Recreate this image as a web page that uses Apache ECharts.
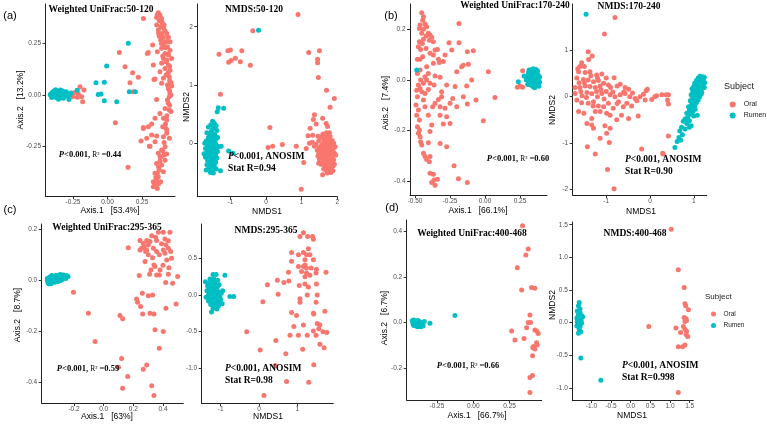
<!DOCTYPE html>
<html><head><meta charset="utf-8">
<script src="https://cdn.jsdelivr.net/npm/echarts@6/dist/echarts.min.js"></script>
<style>html,body{margin:0;padding:0;background:#fff}#c{width:767px;height:426px}</style>
</head><body><div id="c"></div>
<script>
// ---------------- DATA ----------------
// (a) Weighted UniFrac 50-120
const A1_oral = [[0.368,0.400],[0.380,0.388],[0.356,0.377],[0.392,0.372],[0.375,0.361],[0.397,0.351],[0.356,0.340],[0.385,0.332],[0.405,0.324],[0.368,0.316],[0.417,0.312],[0.392,0.299],[0.429,0.299],[0.375,0.286],[0.405,0.280],[0.441,0.280],[0.385,0.267],[0.417,0.259],[0.453,0.259],[0.405,0.243],[0.434,0.235],[0.392,0.227],[0.453,0.218],[0.361,0.210],[0.417,0.202],[0.441,0.194],[0.405,0.178],[0.465,0.178],[0.424,0.162],[0.392,0.154],[0.441,0.146],[0.417,0.129],[0.453,0.121],[0.380,0.113],[0.424,0.097],[0.448,0.089],[0.344,0.078],[0.405,0.081],[0.392,0.057],[0.434,0.049],[0.465,0.044],[0.441,0.032],[0.453,0.008],[0.448,-0.008],[0.434,-0.024],[0.356,-0.021],[0.417,-0.065],[0.448,-0.073],[0.380,-0.089],[0.405,-0.113],[0.429,-0.121],[0.400,-0.154],[0.424,-0.162],[0.344,-0.113],[0.296,-0.154],[0.260,-0.157],[0.320,-0.194],[0.356,-0.199],[0.429,-0.186],[0.405,-0.202],[0.448,-0.210],[0.417,-0.251],[0.392,-0.267],[0.308,-0.248],[0.344,-0.227],[0.368,-0.283],[0.429,-0.286],[0.380,-0.299],[0.417,-0.316],[0.356,-0.332],[0.392,-0.340],[0.375,-0.364],[0.405,-0.372],[0.344,-0.380],[0.368,-0.397],[0.356,-0.413],[0.385,-0.421],[0.332,-0.421],[0.351,-0.437],[0.361,-0.453],[0.332,-0.445],[0.260,0.372],[0.327,0.243],[0.296,0.206],[0.332,0.146],[0.337,0.076],
[0.36,0.39],[0.39,0.36],[0.41,0.34],[0.37,0.30],[0.40,0.28],[0.43,0.26],[0.39,0.25],[0.42,0.23],[0.44,0.20],[0.40,0.19],[0.43,0.17],[0.45,0.14],[0.44,0.11],[0.46,0.06],[0.45,0.02],[0.44,-0.04],[0.45,-0.05],[0.43,-0.10],[0.42,-0.14],[0.41,-0.23],[0.40,-0.27],[0.38,-0.32],[0.37,-0.35],[0.36,-0.38],[0.35,-0.40],[0.34,-0.43],[0.37,-0.43],[0.39,-0.30],[0.41,-0.29],[0.43,-0.17],[0.46,-0.08],[0.46,0.00],[0.45,0.07],
[0.086,0.207],[0.127,0.137],[0.182,0.108],[0.223,0.086],[0.163,0.060],[0.187,0.016],[0.057,-0.134],[0.149,-0.351],[0.289,0.202],[0.260,-0.162],[0.320,-0.141],[0.284,-0.210],[0.243,-0.223],[0.303,-0.248],
[-0.243,0.011],[-0.211,0.005],[-0.199,0.040],[-0.187,-0.008],[-0.170,0.024],[-0.180,-0.032],[-0.219,-0.011],[-0.252,-0.008]];
const A1_rumen = [[-0.41,0.005],[-0.40,0.012],[-0.40,-0.004],[-0.39,0.018],[-0.39,0.002],[-0.39,-0.010],[-0.38,0.010],[-0.38,-0.002],[-0.38,0.022],[-0.37,0.006],[-0.37,-0.012],[-0.37,0.016],[-0.36,0.000],[-0.36,0.012],[-0.36,-0.008],[-0.35,0.020],[-0.35,0.004],[-0.35,-0.014],[-0.34,0.010],[-0.34,-0.004],[-0.34,0.024],[-0.33,0.002],[-0.33,0.014],[-0.33,-0.010],[-0.32,0.006],[-0.32,-0.016],[-0.31,0.010],[-0.31,-0.002],[-0.30,0.004],[-0.30,0.016],[-0.29,-0.006],[-0.285,0.008],[-0.275,0.000],[-0.265,0.010],[-0.405,-0.012],[-0.415,0.002],[-0.375,0.026],[-0.355,-0.020],[-0.345,0.016],[-0.325,0.020],
[0.151,0.251],[-0.006,0.141],[-0.083,0.060],[-0.023,0.062],[-0.067,0.003],[-0.047,0.005],[-0.023,-0.028],[0.067,-0.032],[0.158,0.016],[0.202,0.016],[-0.219,0.023],[-0.279,-0.021]];
const A1_xTicks = [-0.25, 0, 0.25];
const A1_yTicks = [-0.25, 0, 0.25];

// (a) NMDS 50-120
const A2_oral = [[0.90,2.21],[-0.37,1.93],[-1.32,1.53],[-1.07,1.59],[-1.00,1.60],[-0.68,1.59],[-0.86,1.46],[-1.05,1.39],[-0.98,1.42],[-0.72,1.40],[-0.44,1.34],[-1.28,0.84],[0.11,0.27],[0.06,-0.07],[0.19,-0.05],[0.46,-0.02],[0.85,-0.05],[0.99,-0.79],[1.06,-0.33],[1.20,1.56],[1.50,1.59],[1.45,1.44],[1.45,1.38],[1.47,1.13],[1.70,0.91],[1.92,0.77],[1.80,0.62],[1.59,0.43],[1.36,0.49],[1.33,0.41],[1.41,0.33],[1.69,0.34],[1.73,0.29],[1.24,0.26],[1.18,0.13],[1.31,0.14],[1.13,-0.09],[1.22,0.00],[1.48,-0.34],[1.59,-0.54],[1.82,-0.43],
[1.60,0.16],[1.72,0.14],[1.80,0.12],[1.55,0.10],[1.66,0.08],[1.76,0.06],[1.86,0.05],[1.48,0.04],[1.62,0.03],[1.70,0.01],[1.82,-0.01],[1.90,0.00],[1.40,-0.02],[1.56,-0.03],[1.66,-0.05],[1.76,-0.04],[1.84,-0.06],[1.50,-0.07],[1.60,-0.09],[1.72,-0.08],[1.80,-0.10],[1.88,-0.11],[1.44,-0.12],[1.54,-0.13],[1.64,-0.14],[1.74,-0.15],[1.84,-0.16],[1.92,-0.17],[1.48,-0.18],[1.58,-0.19],[1.68,-0.20],[1.78,-0.21],[1.86,-0.22],[1.52,-0.24],[1.62,-0.25],[1.72,-0.26],[1.82,-0.27],[1.90,-0.28],[1.56,-0.29],[1.66,-0.31],[1.76,-0.32],[1.86,-0.33],[1.60,-0.35],[1.70,-0.36],[1.80,-0.37],[1.88,-0.39],[1.64,-0.40],[1.74,-0.42],[1.84,-0.44],[1.68,-0.46],[1.78,-0.48],[1.88,-0.47],[1.72,-0.51],[1.82,-0.50],[1.36,-0.05],[1.30,0.02],[1.46,0.12],[1.70,0.18],[1.78,0.18],[1.94,-0.06],[1.62,-0.44],[1.54,-0.36],[1.96,-0.20],[1.92,-0.36],[1.50,-0.28],[1.68,-0.10],[1.58,0.12],[1.46,-0.22]];
const A2_rumen = [[-0.21,1.94],[-1.34,0.61],[-1.19,0.60],[-1.37,0.54],[-1.26,-0.05],[-1.05,-0.13],[-0.93,-0.17],[-1.28,-0.47],[-1.56,-0.50],[-1.48,-0.51],
[-1.50,0.38],[-1.45,0.34],[-1.55,0.32],[-1.40,0.30],[-1.62,0.28],[-1.48,0.26],[-1.52,0.22],[-1.38,0.22],[-1.66,0.18],[-1.58,0.16],[-1.44,0.15],[-1.50,0.12],[-1.62,0.10],[-1.36,0.10],[-1.54,0.06],[-1.46,0.05],[-1.68,0.04],[-1.58,0.01],[-1.42,0.00],[-1.52,-0.02],[-1.64,-0.04],[-1.38,-0.04],[-1.48,-0.07],[-1.56,-0.08],[-1.70,-0.09],[-1.44,-0.10],[-1.60,-0.12],[-1.52,-0.13],[-1.36,-0.14],[-1.66,-0.16],[-1.48,-0.17],[-1.56,-0.19],[-1.42,-0.20],[-1.62,-0.22],[-1.50,-0.23],[-1.70,-0.24],[-1.38,-0.25],[-1.58,-0.27],[-1.46,-0.28],[-1.64,-0.30],[-1.52,-0.31],[-1.42,-0.33],[-1.58,-0.35],[-1.48,-0.36],[-1.66,-0.37],[-1.54,-0.40],[-1.44,-0.41],[-1.60,-0.43],[-1.50,-0.45],[-1.40,-0.44],[-1.56,-0.48],[-1.68,-0.46],[-1.72,0.00],[-1.74,-0.18],[-1.34,-0.06],[-1.40,0.08],[-1.54,0.20],[-1.46,-0.02],[-1.60,-0.02],[-1.50,-0.10],[-1.58,0.06],[-1.64,-0.14],[-1.42,-0.28],[-1.54,-0.25]];
const A2_xTicks = [-1, 0, 1, 2];
const A2_yTicks = [0, 1, 2];

// (b) Weighted UniFrac 170-240
const B1_oral = [[-0.452,0.266],[-0.440,0.251],[-0.445,0.237],[-0.464,0.218],[-0.429,0.222],[-0.469,0.204],[-0.440,0.201],[-0.417,0.211],[-0.452,0.185],[-0.405,0.185],[-0.421,0.174],[-0.393,0.178],[-0.381,0.169],[-0.398,0.158],[-0.369,0.152],[-0.440,0.161],[-0.469,0.152],[-0.476,0.132],[-0.448,0.145],[-0.460,0.121],[-0.421,0.125],[-0.393,0.106],[-0.369,0.099],[-0.357,0.119],[-0.340,0.121],[-0.333,0.082],[-0.326,0.069],[-0.369,0.066],[-0.445,0.092],[-0.464,0.082],[-0.483,0.082],[-0.186,0.224],[-0.257,0.148],[-0.186,0.148],[-0.238,0.119],[-0.126,0.112],[-0.083,0.116],[-0.286,0.099],[-0.298,0.073],[-0.119,0.063],[-0.167,0.053],[-0.155,0.059],[-0.202,0.033],[0.024,0.033],[0.071,-0.069],[-0.321,0.011],[-0.357,0.016],[-0.393,-0.013],[-0.417,0],[-0.440,-0.013],[-0.476,-0.020],[-0.405,-0.037],[-0.464,-0.033],[-0.429,-0.053],[-0.452,-0.046],[-0.483,-0.066],[-0.488,-0.040],[-0.417,0.053],[-0.464,0.040],[-0.483,0.026],[-0.429,0.013],[-0.460,0],[-0.405,0.026],[-0.493,-0.099],[-0.476,-0.119],[-0.488,-0.139],[-0.469,-0.158],[-0.483,-0.185],[-0.469,-0.198],[-0.476,-0.211],[-0.464,-0.224],[-0.460,-0.244],[-0.452,-0.257],[-0.440,-0.290],[-0.429,-0.303],[-0.417,-0.314],[-0.398,-0.323],[-0.381,-0.178],[-0.393,-0.204],[-0.374,-0.106],[-0.405,-0.139],[-0.429,-0.106],[-0.440,-0.079],[-0.357,-0.092],[-0.333,-0.077],[-0.310,-0.066],[-0.321,-0.106],[-0.286,-0.112],[-0.250,-0.092],[-0.231,-0.073],[-0.202,-0.106],[-0.155,-0.066],[-0.126,-0.095],[-0.274,-0.145],[-0.250,-0.172],[-0.298,-0.174],[-0.321,-0.139],[-0.364,-0.020],[-0.310,-0.046],[-0.274,-0.020],[-0.214,-0.026],[-0.131,-0.024],[-0.095,0],[-0.064,-0.079],[-0.012,-0.161],[-0.321,-0.251],[-0.340,-0.393],[-0.364,-0.396],[-0.381,-0.406],[-0.357,-0.416],[-0.369,-0.373],[-0.393,-0.369],[-0.190,-0.391],[-0.221,-0.339],[-0.126,-0.406],[-0.274,-0.264],[-0.405,-0.248],[-0.393,-0.303],[0.269,0.037],[0.231,-0.029],[0.269,-0.029],[0.250,-0.024]];
const B1_rumen = [[-0.488,0.040],[0.238,-0.007],[0.279,0.016],
[0.30,0.010],[0.31,0.025],[0.31,-0.005],[0.32,0.035],[0.32,0.015],[0.32,-0.015],[0.33,0.030],[0.33,0.005],[0.33,-0.020],[0.34,0.038],[0.34,0.020],[0.34,0.000],[0.34,-0.025],[0.35,0.030],[0.35,0.012],[0.35,-0.008],[0.35,-0.028],[0.36,0.035],[0.36,0.022],[0.36,0.004],[0.36,-0.015],[0.37,0.028],[0.37,0.010],[0.37,-0.005],[0.37,-0.022],[0.38,0.020],[0.38,0.002],[0.38,-0.015],[0.39,0.012],[0.39,-0.008],[0.325,0.040],[0.345,0.045],[0.355,-0.030],[0.365,0.042],[0.385,-0.025],[0.305,-0.018],[0.315,0.040],[0.375,0.036],[0.295,0.000],[0.31,0.030]];
const B1_xTicks = [-0.5, -0.25, 0, 0.25];
const B1_yTicks = [-0.4, -0.2, 0, 0.2];

// (b) NMDS 170-240
const B2_oral = [[-0.80,1.71],[-1.04,1.35],[-1.41,0.97],[-1.32,0.88],[-1.56,0.73],[-1.60,0.65],[-1.63,0.54],[-1.48,0.52],[-1.37,0.54],[-1.22,0.47],[-1.10,0.49],[-1.67,0.40],[-1.52,0.37],[-1.41,0.36],[-1.29,0.32],[-1.18,0.35],[-1.06,0.29],[-0.82,0.41],[-0.68,0.27],[-0.75,0.23],[-0.57,0.20],[-0.49,0.16],[-1.71,0.20],[-1.60,0.20],[-1.48,0.23],[-1.37,0.22],[-1.25,0.20],[-1.14,0.23],[-1.71,0.07],[-1.58,0.11],[-1.44,0.09],[-1.33,0.06],[-1.22,0.11],[-1.10,0.07],[-1.00,0.11],[-0.91,0.04],[-0.80,0.00],[-0.68,0.04],[-0.57,0.07],[-0.46,0.00],[-0.34,-0.04],[-0.23,0.00],[-0.09,0.13],[-0.06,0.16],[-0.11,-0.07],[0.04,-0.06],[0.11,0.00],[0.27,0.04],[0.37,0.04],[0.42,0.04],[0.40,-0.07],[0.42,-0.16],[-1.67,-0.07],[-1.56,-0.13],[-1.41,-0.14],[-1.29,-0.11],[-1.18,-0.20],[-1.06,-0.22],[-0.95,-0.14],[-0.84,-0.25],[-0.72,-0.11],[-0.61,-0.22],[-0.53,-0.14],[-0.42,-0.20],[-0.30,-0.09],[-0.27,-0.42],[-1.63,-0.32],[-1.51,-0.36],[-1.33,-0.47],[-1.25,-0.32],[-1.14,-0.32],[-0.99,-0.36],[-0.91,-0.40],[-1.44,-0.58],[-1.33,-0.61],[-1.29,-0.68],[-1.03,-0.63],[-0.91,-0.68],[-0.99,-0.79],[-1.14,-0.90],[-0.93,-0.99],[-1.43,-1.08],[-1.25,-1.24],[-0.19,-1.13],[0.29,-1.22],[0.30,-1.24],[0.42,-0.85],[-0.97,-1.57],[-0.82,-1.99],[-0.76,-0.50],[-0.49,-0.47],[-0.65,-0.40],
[-1.50,0.30],[-1.35,0.45],[-1.20,0.40],[-1.62,0.30],[-1.45,-0.02],[-1.55,0.02],[-1.30,-0.20],[-1.20,0.00],[-1.05,-0.05],[-0.90,0.20],[-0.85,0.10],[-0.75,-0.15],[-1.00,0.40],[-0.95,0.25],[-1.12,0.15],[-0.60,0.10],[-0.40,0.08],[-0.15,0.05],[0.15,0.02],[-1.65,0.60],[-1.50,0.65],[-1.40,0.80]];
const B2_rumen = [[-1.46,1.78],
[1.14,0.44],[1.20,0.43],[1.24,0.42],[1.10,0.40],[1.17,0.38],[1.22,0.36],[1.06,0.35],[1.13,0.33],[1.19,0.31],[1.25,0.30],[1.02,0.29],[1.09,0.28],[1.15,0.26],[1.21,0.24],[1.00,0.22],[1.06,0.21],[1.12,0.20],[1.18,0.18],[0.96,0.17],[1.03,0.15],[1.09,0.14],[1.15,0.12],[0.98,0.10],[1.05,0.08],[1.11,0.07],[1.17,0.05],[0.94,0.04],[1.01,0.02],[1.07,0.01],[1.13,-0.01],[0.97,-0.04],[1.04,-0.05],[1.10,-0.07],[0.92,-0.09],[0.99,-0.11],[1.06,-0.13],[0.95,-0.17],[1.02,-0.19],[0.88,-0.22],[0.96,-0.24],[1.03,-0.27],[0.90,-0.30],[0.98,-0.32],[0.84,-0.36],[0.93,-0.38],[1.00,-0.42],[0.86,-0.45],[0.80,-0.48],[0.90,-0.52],[0.76,-0.53],[0.84,-0.58],[0.94,-0.63],[0.72,-0.66],[0.80,-0.70],[0.68,-0.74],[0.74,-0.82],[0.66,-0.88],[0.70,-0.94],[0.62,-0.97],[0.57,-1.10],[1.08,-0.40],[1.18,0.10],[1.24,0.20],[0.90,-0.66]];
const B2_xTicks = [-1, 0, 1];
const B2_yTicks = [-2, -1, 0, 1];

// (c) Weighted UniFrac 295-365
const C1_oral = [[0.166,0.129],[0.369,0.190],[0.402,0.190],[0.447,0.190],[0.245,0.157],[0.267,0.146],[0.290,0.157],[0.312,0.153],[0.357,0.157],[0.413,0.163],[0.436,0.156],[0.272,0.133],[0.301,0.140],[0.335,0.127],[0.256,0.127],[0.283,0.114],[0.301,0.101],[0.357,0.114],[0.402,0.120],[0.436,0.127],[0.452,0.114],[0.413,0.107],[0.375,0.101],[0.425,0.081],[0.458,0.088],[0.279,0.075],[0.245,0.120],[0.324,0.176],[0.240,0.020],[0.319,0.042],[0.346,0.055],[0.380,0.042],[0.375,0.022],[0.357,0.022],[0.436,0.025],[0.418,-0.007],[0.465,-0.010],[0.499,0.016],[0.339,0.061],[-0.204,-0.046],[-0.103,-0.128],[0.110,-0.137],[0.128,-0.150],[-0.058,-0.239],[0.261,-0.050],[0.301,-0.059],[0.330,-0.056],[0.249,-0.102],[0.229,-0.085],[0.222,-0.072],[0.263,-0.131],[0.312,-0.128],[0.339,-0.131],[0.346,-0.193],[0.402,-0.200],[0.420,-0.108],[0.488,-0.092],[0.375,-0.265],[0.290,-0.331],[0.267,-0.348],[0.121,-0.305],[0.162,-0.376],[0.128,-0.422],[0.324,-0.412],[0.339,-0.451],[0.10,-0.34],[0.39,0.145],[0.35,0.17],[0.42,0.14],[0.33,0.09],[0.40,0.06],[0.44,0.05],[0.31,0.025],[0.29,0.12]];
const C1_rumen = [[-0.38,0.000],[-0.375,-0.008],[-0.37,0.006],[-0.365,-0.004],[-0.36,0.010],[-0.36,-0.010],[-0.355,0.002],[-0.35,0.012],[-0.35,-0.006],[-0.345,0.006],[-0.34,-0.002],[-0.34,0.014],[-0.335,0.008],[-0.33,-0.006],[-0.33,0.016],[-0.325,0.004],[-0.32,0.012],[-0.32,-0.002],[-0.315,0.018],[-0.31,0.008],[-0.305,0.000],[-0.30,0.014],[-0.30,0.022],[-0.295,0.006],[-0.29,0.016],[-0.285,0.010],[-0.28,0.020],[-0.28,0.004],[-0.275,0.014],[-0.27,0.022],[-0.265,0.012],[-0.26,0.018],[-0.255,0.008],[-0.25,0.020],[-0.24,0.016],[-0.37,-0.012],[-0.355,-0.012],[-0.345,0.018],[-0.31,-0.004],[-0.29,0.024],[-0.365,0.014],[-0.325,0.020],[-0.38,0.008],[-0.35,0.020],[-0.29,0.000]];
const C1_xTicks = [-0.2, 0, 0.2, 0.4];
const C1_yTicks = [-0.4, -0.2, 0, 0.2];

// (c) NMDS 295-365
const C2_oral = [[1.16,0.85],[1.07,0.80],[1.27,0.80],[1.40,0.80],[1.42,0.76],[0.85,0.58],[1.03,0.55],[1.16,0.58],[1.24,0.55],[1.29,0.63],[1.33,0.55],[1.20,0.48],[1.42,0.48],[0.85,0.46],[1.03,0.39],[1.16,0.39],[1.24,0.37],[1.20,0.41],[1.36,0.37],[1.50,0.35],[1.11,0.32],[1.24,0.30],[1.49,0.30],[1.75,0.31],[0.77,0.31],[1.33,0.27],[1.20,0.25],[0.22,0.14],[0.48,0.20],[0.65,0.17],[0.78,0.19],[0.50,0.01],[0.10,-0.09],[1.05,0.13],[1.20,0.15],[1.29,0.11],[1.50,0.15],[1.26,0.00],[1.07,-0.05],[1.07,-0.10],[1.52,0.00],[1.49,-0.10],[1.72,-0.22],[0.85,-0.24],[0.98,-0.28],[1.42,-0.25],[1.43,-0.26],[1.16,-0.41],[0.91,-0.43],[1.52,-0.39],[1.59,-0.41],[1.56,-0.46],[1.42,-0.49],[1.67,-0.50],[1.77,-0.51],[1.26,-0.55],[1.03,-0.55],[0.81,-0.55],[1.49,-0.55],[1.14,-0.74],[1.59,-0.67],[1.70,-0.72],[0.70,-0.80],[0.44,-0.62],[0.03,-0.75],[-0.32,-0.50],[1.43,-0.95],[0.42,-0.96],[0.72,-1.18],[1.30,-1.19],[0.13,-1.37]];
const C2_rumen = [[-1.20,0.28],[-1.12,0.28],[-1.28,0.22],[-1.18,0.22],[-1.08,0.20],[-1.34,0.16],[-1.24,0.16],[-1.14,0.15],[-1.04,0.14],[-1.30,0.10],[-1.20,0.10],[-1.10,0.09],[-1.36,0.06],[-1.26,0.05],[-1.16,0.05],[-1.06,0.04],[-0.98,0.03],[-1.32,0.00],[-1.22,0.01],[-1.12,0.00],[-1.02,-0.01],[-1.38,-0.03],[-1.28,-0.04],[-1.18,-0.04],[-1.08,-0.05],[-1.00,-0.06],[-1.32,-0.08],[-1.22,-0.09],[-1.12,-0.10],[-1.04,-0.10],[-1.26,-0.13],[-1.16,-0.14],[-1.06,-0.15],[-1.20,-0.18],[-1.10,-0.19],[-1.24,-0.23],[-1.40,0.18],[-0.89,0.27],[-0.76,-0.02],[-0.66,-0.02],[-0.96,-0.12],[-1.34,0.12],[-1.14,-0.02],[-1.24,0.12],[-1.30,-0.02],[-1.08,0.12],[-0.95,0.06],[-1.18,0.18]];
const C2_xTicks = [-1, 0, 1];
const C2_yTicks = [-1, -0.5, 0, 0.5];

// (d) Weighted UniFrac 400-468
const D1_oral = [[0.339,0.425],[0.378,0.323],[0.362,0.297],[0.303,0.241],[0.333,0.143],[0.401,0.154],[0.424,0.151],[0.390,0.034],[0.378,0.001],[0.394,0.001],[0.367,-0.022],[0.424,-0.032],[0.436,-0.037],[0.447,-0.047],[0.264,-0.037],[0.287,-0.076],[0.349,-0.069],[0.436,-0.088],[0.440,-0.098],[0.413,-0.105],[0.424,-0.115],[0.408,-0.145],[0.390,-0.240],[0.408,-0.232],[0.390,-0.306],[0.41,-0.11]];
const D1_rumen = [[-0.42,0.008],[-0.415,-0.004],[-0.41,0.012],[-0.405,0.000],[-0.40,-0.010],[-0.40,0.008],[-0.395,-0.004],[-0.39,0.006],[-0.39,-0.014],[-0.385,0.000],[-0.38,-0.008],[-0.38,0.010],[-0.375,-0.016],[-0.37,-0.004],[-0.37,0.004],[-0.365,-0.012],[-0.36,-0.002],[-0.355,-0.010],[-0.35,-0.006],[-0.345,-0.014],[-0.36,-0.018],[-0.41,-0.012],[-0.385,-0.018],[-0.337,0.005],[-0.298,-0.003],[-0.126,0.031]];
const D1_xTicks = [-0.25, 0, 0.25];
const D1_yTicks = [-0.2, 0, 0.2, 0.4];

// (d) NMDS 400-468
const D2_oral = [[1.03,1.43],[1.21,0.81],[1.36,0.54],[1.38,0.29],[1.40,0.26],[1.47,0.20],[1.36,0.08],[1.41,0.06],[1.38,0.02],[1.42,0.03],[0.46,-0.06],[1.15,-0.08],[1.34,-0.06],[1.38,-0.10],[1.42,-0.13],[1.27,-0.15],[1.41,-0.18],[1.38,-0.34],[1.32,-0.37],[1.21,-0.37],[1.21,-1.07],[1.45,-0.21]];
const D2_rumen = [[-1.31,0.31],[-1.33,0.26],[-1.29,0.21],[-1.36,0.18],[-1.25,0.11],[-1.33,0.12],[-1.37,0.07],[-1.27,0.06],[-1.31,0.02],[-1.36,0.01],[-1.25,-0.01],[-1.33,-0.04],[-1.29,-0.06],[-1.37,-0.05],[-1.31,-0.10],[-1.27,-0.14],[-1.33,-0.16],[-1.22,0.09],[-1.29,0.16],[-1.35,0.04],[-1.26,0.03],[-1.27,-0.54],[-0.76,-0.88]];
const D2_xTicks = [-1.5, -1, -0.5, 0, 0.5, 1, 1.5];
const D2_yTicks = [-1, -0.5, 0, 0.5, 1, 1.5];

const legendNames = ['Oral', 'Rumen'];

// ---------------- LAYOUT ----------------
const RED = '#F8766D', CYAN = '#00BFC4';
const panels = [
  {oral:A1_oral, rumen:A1_rumen, xt:A1_xTicks, yt:A1_yTicks, xd:2, yd:2, g:[45.5,4,175,196],   xr:[-0.449,0.489], yr:[-0.490,0.442]},
  {oral:A2_oral, rumen:A2_rumen, xt:A2_xTicks, yt:A2_yTicks, xd:0, yd:0, g:[197.3,4,337.2,196.7], xr:[-1.93,2.0], yr:[-0.916,2.39]},
  {oral:B1_oral, rumen:B1_rumen, xt:B1_xTicks, yt:B1_yTicks, xd:2, yd:1, g:[410,4,547,195],     xr:[-0.536,0.443], yr:[-0.455,0.301]},
  {oral:B2_oral, rumen:B2_rumen, xt:B2_xTicks, yt:B2_yTicks, xd:0, yd:0, g:[572.7,4,706.7,195], xr:[-1.765,1.295], yr:[-2.123,2.0]},
  {oral:C1_oral, rumen:C1_rumen, xt:C1_xTicks, yt:C1_yTicks, xd:1, yd:1, g:[41.7,224,183.3,403], xr:[-0.418,0.537], yr:[-0.480,0.222]},
  {oral:C2_oral, rumen:C2_rumen, xt:C2_xTicks, yt:C2_yTicks, xd:0, yd:1, g:[201.7,224,333.3,403.3], xr:[-1.496,1.94], yr:[-1.477,0.969]},
  {oral:D1_oral, rumen:D1_rumen, xt:D1_xTicks, yt:D1_yTicks, xd:2, yd:1, g:[406.7,220,541.7,400], xr:[-0.458,0.471], yr:[-0.339,0.450]},
  {oral:D2_oral, rumen:D2_rumen, xt:D2_xTicks, yt:D2_yTicks, xd:1, yd:1, g:[572.3,222,693.3,400], xr:[-1.486,1.593], yr:[-1.184,1.542]}
];

function mkAxis(i, r, ticks, dec, isX){
  return {
    gridIndex:i, type:'value', min:r[0], max:r[1],
    splitLine:{show:false},
    axisLine:{show:true, onZero:false, lineStyle:{color:'#222', width:1}},
    axisTick:{show:true, length:3, customValues:ticks, lineStyle:{color:'#333', width:1}},
    axisLabel:{customValues:ticks, formatter:(v)=>Number(v).toFixed(dec), color:'#4d4d4d',
      fontSize:6.5, fontFamily:'Liberation Sans', margin: isX ? 2.5 : 4.5}
  };
}

const grids=[], xAxes=[], yAxes=[], series=[];
panels.forEach((p,i)=>{
  grids.push({left:p.g[0], top:p.g[1], width:p.g[2]-p.g[0], height:p.g[3]-p.g[1]});
  xAxes.push(mkAxis(i, p.xr, p.xt, p.xd, true));
  yAxes.push(mkAxis(i, p.yr, p.yt, p.yd, false));
  series.push({type:'scatter', name:'Oral', xAxisIndex:i, yAxisIndex:i, data:p.oral, symbolSize:5,
    itemStyle:{color:RED, opacity:1}, silent:true, z:2});
  series.push({type:'scatter', name:'Rumen', xAxisIndex:i, yAxisIndex:i, data:p.rumen, symbolSize:5,
    itemStyle:{color:CYAN, opacity:1}, silent:true, z:3});
});

// ---------------- TEXT ----------------
const SERIF = 'Liberation Serif', SANS = 'Liberation Sans';
function T(x, y, text, o){
  o = o || {};
  return {type:'text', x:x, y:y, rotation:o.rot||0, silent:true, z:10,
    style:{text:text, fill:o.fill||'#000', fontSize:o.size||8.5, fontFamily:o.family||SANS,
      fontWeight:o.weight||'normal', align:o.align||'center', verticalAlign:'middle', rich:o.rich}};
}
const R90 = Math.PI/2;
function annR2(x, y, val){
  const st = {fontSize:8.5, fontFamily:SERIF, fontWeight:'bold', fill:'#000', color:'#000'};
  return T(x, y, '{i|P}{b|<0.001, }{r|R² }{b|=' + val + '}', {rich:{
    i:Object.assign({}, st, {fontStyle:'italic'}), b:st,
    r:{fontSize:7.5, fontFamily:SERIF, fill:'#000', color:'#000'}}});
}
function annAn(x, y, val){
  const st = {fontSize:9.5, fontFamily:SERIF, fontWeight:'bold', fill:'#000', color:'#000'};
  return [
    T(x, y, '{i|P}{b|<0.001, ANOSIM}', {align:'left', rich:{i:Object.assign({}, st, {fontStyle:'italic'}), b:st}}),
    T(x, y+12, 'Stat R=' + val, {align:'left', size:9.5, family:SERIF, weight:'bold'})
  ];
}
const ttl = (x,y,t)=>T(x, y, t, {size:9.5, family:SERIF, weight:'bold'});

const graphics = [
  T(10,16,'(a)',{size:11}), T(391,16,'(b)',{size:11}), T(10,210,'(c)',{size:11}), T(392,208,'(d)',{size:11}),
  ttl(101,10,'Weighted UniFrac:50-120'), ttl(254,10,'NMDS:50-120'),
  ttl(515,6,'Weighted UniFrac:170-240'), ttl(629,7,'NMDS:170-240'),
  ttl(107,228,'Weighted UniFrac:295-365'), ttl(266,231,'NMDS:295-365'),
  ttl(472,234,'Weighted UniFrac:400-468'), ttl(635,234,'NMDS:400-468'),
  T(110,211,'Axis.1   [53.4%]'), T(21,100,'Axis.2   [13.2%]',{rot:R90}),
  T(267,212,'NMDS1'), T(187,107,'NMDS2',{rot:R90}),
  T(478,211,'Axis.1   [66.1%]'), T(386,103,'Axis.2   [7.4%]',{rot:R90}),
  T(641,212,'NMDS1'), T(553,110,'NMDS2',{rot:R90}),
  T(107,417,'Axis.1   [63%]'), T(18,315,'Axis.2   [8.7%]',{rot:R90}),
  T(268,417,'NMDS1'),
  T(477,416,'Axis.1   [66.7%]'), T(385,318,'Axis.2   [6.7%]',{rot:R90}),
  T(632,416,'NMDS1'), T(553,305,'NMDS2',{rot:R90}),
  annR2(90,155,'0.44'), annR2(518,159,'0.60'), annR2(88,369,'0.59'), annR2(468,366,'0.66'),
  ...annAn(228,157,'0.94'), ...annAn(625,160,'0.90'), ...annAn(225,369,'0.98'), ...annAn(622,366,'0.998'),
  T(724,87,'Subject',{align:'left', size:9, fill:'#1a1a1a'}),
  T(705,297,'Subject',{align:'left', size:8, fill:'#1a1a1a'})
];

const chart = echarts.init(document.getElementById('c'), null, {renderer:'canvas'});
chart.setOption({
  animation:false,
  backgroundColor:'#fff',
  grid:grids, xAxis:xAxes, yAxis:yAxes, series:series,
  legend:[
    {data:legendNames, orient:'vertical', left:724.7, top:96, icon:'circle', itemWidth:12, itemHeight:6, itemGap:4,
     selectedMode:false, textStyle:{fontSize:7, color:'#1a1a1a', fontFamily:SANS, padding:0}},
    {data:legendNames, orient:'vertical', left:706, top:305.5, icon:'circle', itemWidth:10, itemHeight:5, itemGap:4.5,
     selectedMode:false, textStyle:{fontSize:6.5, color:'#1a1a1a', fontFamily:SANS, padding:0}}
  ],
  graphic:graphics
});
</script>
</body></html>
